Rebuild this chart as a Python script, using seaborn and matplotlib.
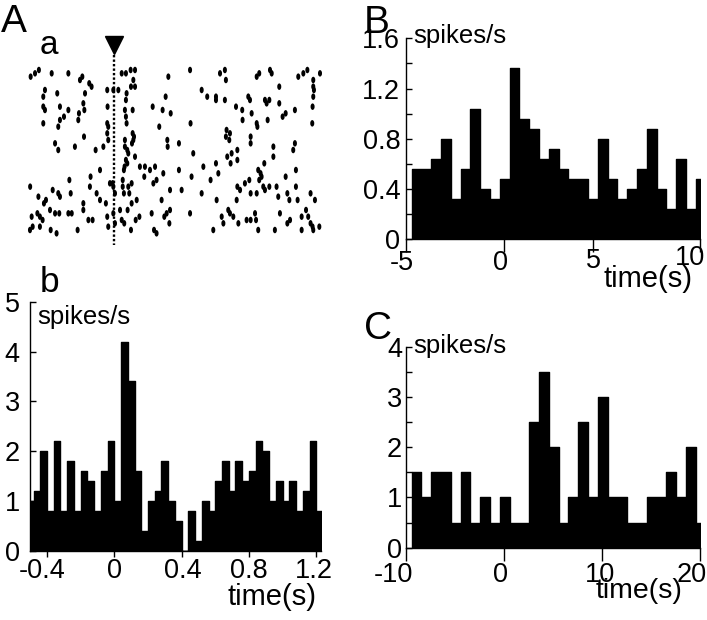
import numpy as np
import pandas as pd
import matplotlib
matplotlib.use("Agg")
import matplotlib.pyplot as plt
import seaborn as sns
from matplotlib.markers import MarkerStyle
from matplotlib.transforms import Affine2D, blended_transform_factory, offset_copy

# ---------------- data ----------------
# panel b: PSTH, 0.04 s bins starting at -0.52 s
b_bin_start = -0.52
b_bin_width = 0.04
b_rate = [1.0, 1.2, 2.0, 0.8, 2.2, 0.8, 1.8, 0.8, 1.6, 1.4,
          0.8, 1.6, 2.2, 1.0, 4.2, 3.4, 1.6, 0.4, 1.0, 1.2,
          1.8, 1.0, 0.6, 0.0, 0.8, 0.2, 1.0, 0.8, 1.4, 1.8,
          1.2, 1.8, 1.4, 1.6, 2.2, 2.0, 1.0, 1.4, 1.0, 1.4,
          0.8, 1.2, 2.2, 0.8]
b_xticks = [-0.4, 0, 0.4, 0.8, 1.2]
b_xticklabels = ["-0.4", "0", "0.4", "0.8", "1.2"]
b_yticks = [0, 1, 2, 3, 4, 5]

# panel B: 0.5 s bins starting at -4.7 s
B_bin_start = -4.7
B_bin_width = 0.5
B_rate = [0.56, 0.56, 0.64, 0.80, 0.32, 0.56, 1.04, 0.40, 0.32, 0.48,
          1.36, 0.96, 0.88, 0.64, 0.72, 0.56, 0.48, 0.48, 0.32, 0.80,
          0.48, 0.32, 0.40, 0.56, 0.88, 0.40, 0.24, 0.64, 0.24, 0.48]
B_xticks = [-5, 0, 4.57, 10]
B_xticklabels = ["-5", "0", "5", "10"]
B_yticks = [0, 0.4, 0.8, 1.2, 1.6]
B_yticklabels = ["0", "0.4", "0.8", "1.2", "1.6"]
B_yminor = [0.2, 0.6, 1.0, 1.4]

# panel C: 1 s bins starting at -9.4 s
C_bin_start = -9.4
C_bin_width = 1.0
C_rate = [1.5, 1.0, 1.5, 1.5, 0.5, 1.5, 0.5, 1.0, 0.5, 1.0,
          0.5, 0.5, 2.5, 3.5, 2.0, 0.5, 1.0, 2.5, 1.0, 3.0,
          1.0, 1.0, 0.5, 0.5, 1.0, 1.0, 1.5, 1.0, 2.0, 0.5]
C_xticks = [-10, 0, 10, 20]
C_xticklabels = ["-10", "0", "10", "20"]
C_yticks = [0, 1, 2, 3, 4]
C_yminor = [0.5, 1.5, 2.5, 3.5]

# panel a: raster (spike time in s, trial number)
spike_time = [
    -0.497, -0.471, -0.448, -0.372, -0.273, -0.204, -0.190, -0.149, -0.135, 0.044,
    0.069, 0.097, 0.123, 0.113, 0.099, 0.321, 0.450, 0.628, 0.657, 0.663,
    0.846, 0.861, 0.925, 0.935, 0.980, 1.093, 1.123, 1.147, 1.182, 1.222,
    -0.412, -0.422, -0.339, -0.174, -0.042, -0.006, 0.024, 0.073, 0.069, 0.123,
    0.305, 0.519, 0.552, 0.604, 0.604, 0.657, 0.796, 0.806, 0.895, 0.921,
    0.980, 1.073, 1.182, 1.186, 1.182, 1.178, -0.422, -0.412, -0.323, -0.273,
    -0.184, -0.178, -0.040, 0.063, 0.109, 0.228, 0.287, 0.335, 0.723, 0.760,
    0.816, 0.905,
    -0.299, -0.323, -0.210, -0.214, -0.422, -0.333, -0.042, -0.036, 0.069, 0.073,
    0.267, 0.453, 0.667, 0.687, 0.846, 0.850, 0.911, 1.000, 1.018, 1.176, 0.762,
    -0.352, -0.333, -0.234, -0.180, -0.111, -0.065, -0.042, -0.036, 0.063, 0.109,
    0.117, 0.113, 0.105, 0.063, 0.077, 0.083, 0.123, 0.315, 0.317, 0.384,
    0.663, 0.683, 0.810, 0.810, 0.945, 1.073, 1.063, 0.671, 0.697, 0.731, 0.469,
    0.069, 0.077, 0.061, 0.057, 0.152, 0.182, 0.212, 0.242, 0.291, 0.384,
    0.459, 0.529, 0.604, 0.618, 0.691, 0.731, 0.855, 0.869, 0.875, 0.891,
    0.945, 1.018, 1.079, -0.267, -0.141, -0.085, 0.050, -0.010, 0.178,
    -0.500, -0.451, -0.418, -0.406, -0.366, -0.333, -0.323, -0.259, -0.184, -0.145,
    -0.105, -0.085, -0.050, -0.026, -0.006, 0.004, 0.050, 0.057, 0.083, 0.089,
    0.103, 0.103, 0.133, 0.232, 0.251, 0.281, 0.331, 0.400, 0.519, 0.572,
    0.608, 0.731, 0.747, 0.776, 0.802, 0.810, 0.846, 0.861, 0.885, 0.895,
    0.921, 0.964, 0.974, 1.028, 1.040, 1.079, 1.089, 1.166, 1.192, 0.727,
    -0.491, -0.457, -0.442, -0.426, -0.382, -0.352, -0.327, -0.273, -0.253, -0.184,
    -0.154, -0.129, -0.485, -0.501, -0.442, -0.378, -0.343, -0.218, -0.042, -0.036,
    -0.006, 0.004, 0.034, 0.044, 0.059, 0.079, 0.099, 0.127, 0.149, 0.222,
    0.236, 0.251, 0.297, 0.311, 0.331, 0.327, 0.450, 0.588, 0.638, 0.648,
    0.677, 0.687, 0.707, 0.737, 0.786, 0.810, 0.836, 0.842, 0.855, 0.954,
    0.984, 1.028, 1.044, 1.113, 1.113, 1.139, 1.152, 1.166, 1.178, 1.182, 1.218,
]
spike_trial = [
    3, 2, 1, 2, 2, 4, 3, 5, 6, 2,
    2, 1, 1, 4, 6, 3, 1, 2, 1, 4,
    3, 2, 1, 2, 6, 3, 2, 1, 4, 2,
    7, 9, 8, 8, 7, 7, 7, 8, 10, 6,
    9, 7, 9, 9, 10, 10, 9, 10, 10, 10,
    11, 13, 6, 7, 9, 12, 12, 13, 12, 13,
    11, 13, 12, 13, 13, 12, 13, 14, 12, 13,
    14, 11,
    15, 16, 14, 16, 17, 18, 17, 18, 15, 17,
    18, 17, 19, 20, 17, 18, 16, 15, 14, 17, 16,
    23, 25, 24, 21, 25, 24, 20, 22, 22, 20,
    21, 22, 23, 24, 25, 26, 27, 22, 24, 23,
    21, 22, 21, 23, 24, 23, 25, 27, 26, 25, 26,
    28, 29, 30, 31, 30, 30, 31, 30, 32, 31,
    33, 30, 29, 32, 29, 28, 31, 32, 33, 29,
    27, 33, 31, 34, 33, 31, 34, 35, 33,
    36, 39, 41, 40, 37, 38, 39, 38, 41, 36,
    38, 40, 41, 35, 36, 38, 36, 38, 36, 38,
    35, 41, 40, 35, 34, 40, 37, 37, 38, 34,
    40, 36, 37, 35, 34, 38, 38, 34, 36, 37,
    36, 36, 39, 38, 40, 36, 40, 38, 40, 40,
    45, 44, 45, 46, 43, 44, 44, 44, 44, 43,
    46, 46, 48, 49, 48, 49, 50, 49, 45, 48,
    44, 47, 43, 46, 47, 43, 49, 46, 45, 44,
    49, 50, 45, 44, 43, 47, 44, 49, 45, 47,
    43, 44, 45, 47, 46, 46, 44, 46, 49, 49,
    44, 47, 46, 49, 45, 43, 45, 47, 48, 49, 48,
]

# ---------------- style ----------------
sns.set_theme(style="ticks")
plt.rcParams['font.family'] = ['Liberation Sans', 'DejaVu Sans']
plt.rcParams['axes.edgecolor'] = 'black'
plt.rcParams['xtick.color'] = 'black'
plt.rcParams['ytick.color'] = 'black'
plt.rcParams['text.color'] = 'black'

TICK_FS = 19.5
W, H = 707, 620
fig = plt.figure(figsize=(W / 100, H / 100), dpi=100)
fig.patch.set_facecolor('white')


def ax_px(l, r, t, b):
    return fig.add_axes([l / W, 1 - b / H, (r - l) / W, (b - t) / H])


def ftext(x, y, s, size, ha='left', va='baseline'):
    fig.text(x / W, 1 - y / H, s, fontsize=size, ha=ha, va=va)


def hist(ax, start, width, rates):
    n = len(rates)
    edges = [round(start + width * i, 6) for i in range(n + 1)]
    centers = [(edges[i] + edges[i + 1]) / 2 for i in range(n)]
    df = pd.DataFrame({"t": centers, "rate": rates})
    sns.histplot(data=df, x="t", weights="rate", bins=edges, element="step",
                 fill=True, color="black", alpha=1, ax=ax)
    ax.set_xlabel("")
    ax.set_ylabel("")


def style(ax, xlim, ylim, ypad, xlen):
    ax.set_xlim(xlim)
    ax.set_ylim(ylim)
    ax.set_facecolor('none')
    for s in ['top', 'right']:
        ax.spines[s].set_visible(False)
    for s in ['left', 'bottom']:
        ax.spines[s].set_linewidth(1.0)
        ax.spines[s].set_color('black')
    ax.tick_params(axis='y', which='both', direction='in', length=4, width=1,
                   pad=ypad, labelsize=TICK_FS)
    ax.tick_params(axis='x', which='both', direction='out', length=xlen, width=1,
                   labelsize=TICK_FS)


def xlabels(ax, ticks, labels, dxs, baselines):
    """x tick labels placed under their ticks (with small pixel nudges)."""
    ax.set_xticks(ticks, [""] * len(ticks))
    base = blended_transform_factory(ax.transData, fig.transFigure)
    for t, lab, dx, bl in zip(ticks, labels, dxs, baselines):
        tr = offset_copy(base, fig=fig, x=dx, y=0, units='dots')
        ax.text(t, 1 - bl / H, lab, transform=tr, ha='center', va='baseline',
                fontsize=TICK_FS, clip_on=False)


# ---------------- panel a: raster ----------------
axa = ax_px(30.15, 320.5, 35, 248)
ell = MarkerStyle('o', transform=Affine2D().scale(0.62, 1.0))
sns.scatterplot(x=spike_time, y=spike_trial, marker=ell, s=22, color='black',
                edgecolor='none', linewidth=0, ax=axa, clip_on=False, legend=False)
axa.plot([0, 0], [-3.5, 53.5], color='black', lw=1.7, ls=(0, (1, 0.9)))
axa.plot([0], [-6.5], marker='v', ms=13.5, color='black', mec='black', clip_on=False)
axa.set_xlim(-0.5, 1.225)
axa.set_ylim(54.4, -9.5)
axa.axis('off')

# ---------------- panel b ----------------
axb = ax_px(30.15, 320.5, 301.7, 551)
hist(axb, b_bin_start, b_bin_width, b_rate)
style(axb, (-0.5, 1.225), (0, 5), ypad=7.5, xlen=4)
xlabels(axb, b_xticks, b_xticklabels, [-5, 0, 1, 0, -2], [578] * 5)
axb.set_yticks(b_yticks, [str(v) for v in b_yticks])

# ---------------- panel B ----------------
axB = ax_px(405.7, 699.7, 38.3, 239.3)
hist(axB, B_bin_start, B_bin_width, B_rate)
style(axB, (-5, 10), (0, 1.6), ypad=4.0, xlen=9)
xlabels(axB, B_xticks, B_xticklabels, [-4, -3, 0, -10], [270, 270, 268, 265])
axB.set_yticks(B_yticks, B_yticklabels)
axB.set_yticks(B_yminor, minor=True)

# ---------------- panel C ----------------
axC = ax_px(405.7, 699.7, 346.7, 547.7)
hist(axC, C_bin_start, C_bin_width, C_rate)
style(axC, (-10, 20), (0, 4), ypad=2.5, xlen=9)
xlabels(axC, C_xticks, C_xticklabels, [-12, -3, -2, -8], [582] * 4)
axC.set_yticks(C_yticks, [str(v) for v in C_yticks])
axC.set_yticks(C_yminor, minor=True)

# ---------------- texts ----------------
ftext(1, 32, "A", 28)
ftext(40, 54, "a", 24)
ftext(40, 292, "b", 25.5)
ftext(364, 33, "B", 28)
ftext(364, 339, "C", 28)

ftext(37, 324, "spikes/s", 18.5)
ftext(413, 43, "spikes/s", 18.5)
ftext(413, 353, "spikes/s", 18.5)

ftext(316, 605, "time(s)", 21, ha='right')
ftext(693, 287, "time(s)", 21, ha='right')
ftext(683, 598, "time(s)", 20.5, ha='right')

fig.savefig("out.png", dpi=100, facecolor='white')
